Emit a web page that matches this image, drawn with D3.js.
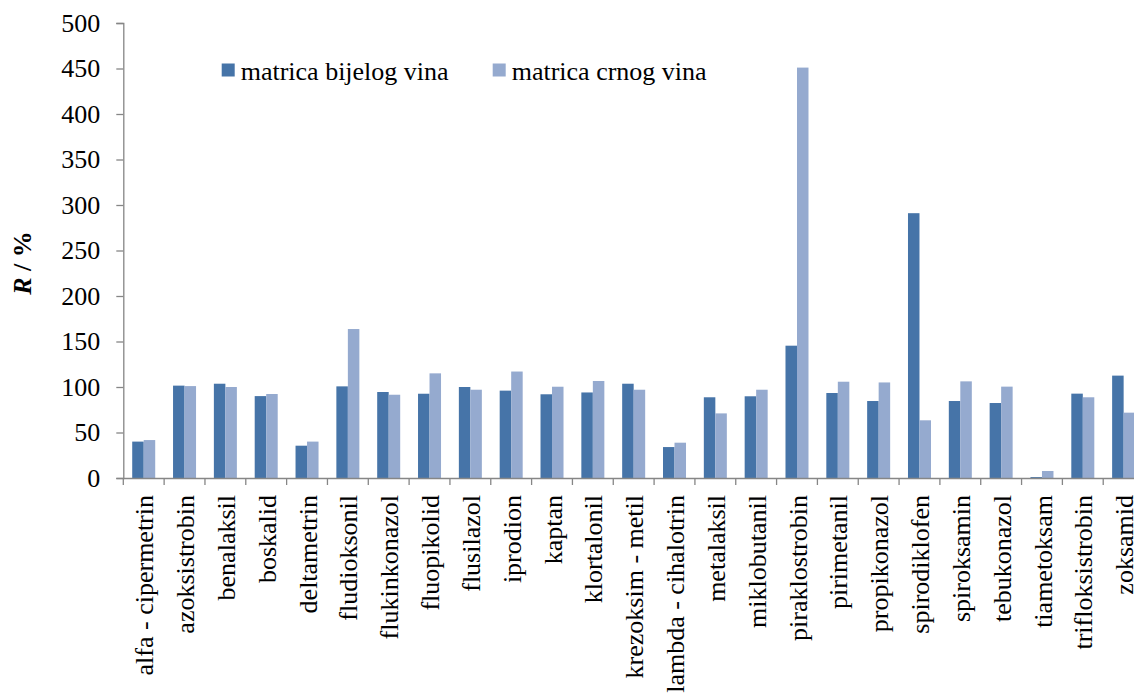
<!DOCTYPE html>
<html>
<head>
<meta charset="utf-8">
<script src="https://cdn.jsdelivr.net/npm/d3@7"></script>
<style>
  html, body { margin: 0; padding: 0; background: #fff; }
  svg { display: block; }
</style>
</head>
<body>
<script>
const categories = ["alfa - cipermetrin","azoksistrobin","benalaksil","boskalid","deltametrin","fludioksonil","flukinkonazol","fluopikolid","flusilazol","iprodion","kaptan","klortalonil","krezoksim - metil","lambda - cihalotrin","metalaksil","miklobutanil","piraklostrobin","pirimetanil","propikonazol","spirodiklofen","spiroksamin","tebukonazol","tiametoksam","trifloksistrobin","zoksamid"];
const seriesNames = ["matrica bijelog vina","matrica crnog vina"];
const bijelo = [40, 101.5, 103.6, 90, 35.5, 100.7, 94.5, 92.6, 100, 96, 92, 94, 103.6, 34, 88.7, 89.8, 145.4, 93.4, 84.6, 291, 84.6, 82.4, 1, 92.7, 112.5];
const crno = [41.7, 101, 100, 92.3, 40, 163.7, 91.5, 115, 97, 117, 100.3, 106.6, 97, 38.8, 71, 97, 451, 105.8, 105, 63.4, 106.2, 100.4, 7.7, 88.7, 71.8];
const yTicks = [0, 50, 100, 150, 200, 250, 300, 350, 400, 450, 500];
const yTitle = ["R", " / %"];

const W = 1134, H = 695;
const colors = ["#4674A8", "#95AACF"];
const axisColor = "#868686";
const FONT = "'Liberation Serif', 'Times New Roman', Times, 'DejaVu Serif', serif";

const svg = d3.select("body").append("svg").attr("width", W).attr("height", H)
  .style("font-family", FONT);

const left = 123.3, bandW = 40.83;
const x0 = d3.scaleBand().domain(categories).range([left, left + bandW * categories.length]).padding(0);
const x1 = d3.scaleBand().domain(seriesNames).range([0, x0.bandwidth()]).paddingInner(0).paddingOuter(0.775);
const y = d3.scaleLinear().domain([0, 500]).range([478, 23]);

// bars
const data = [bijelo, crno];
seriesNames.forEach((s, si) => {
  svg.append("g").selectAll("rect").data(categories).join("rect")
    .attr("x", c => x0(c) + x1(s))
    .attr("y", (c, i) => y(data[si][i]))
    .attr("width", x1.bandwidth())
    .attr("height", (c, i) => y(0) - y(data[si][i]))
    .attr("fill", colors[si]);
});

// y axis
const yAxis = d3.axisLeft(y).tickValues(yTicks).tickSize(7).tickPadding(16);
const gy = svg.append("g").attr("transform", `translate(${left},0)`).call(yAxis);
gy.attr("font-family", null).attr("font-size", null);
gy.select(".domain").attr("stroke", axisColor).attr("stroke-width", 1.3);
gy.selectAll(".tick line").attr("stroke", axisColor).attr("stroke-width", 1.3);
gy.selectAll(".tick text").style("font-family", FONT).style("font-size", "26px").attr("fill", "#000");

// x axis
const xAxis = d3.axisBottom(x0).tickSize(0).tickFormat("");
const gx = svg.append("g").attr("transform", `translate(0,${y(0)})`).call(xAxis);
gx.select(".domain").attr("stroke", axisColor).attr("stroke-width", 1.3);
const bounds = categories.map(c => x0(c)).concat([x0.range()[1]]);
gx.selectAll("line.bound").data(bounds).join("line").attr("class", "bound")
  .attr("x1", d => d).attr("x2", d => d).attr("y1", 0).attr("y2", 7)
  .attr("stroke", axisColor).attr("stroke-width", 1.3);

// x labels
svg.append("g").selectAll("text").data(categories).join("text")
  .attr("transform", c => `translate(${x0(c) + x0.bandwidth() / 2 + 1},495) rotate(-90)`)
  .attr("text-anchor", "end")
  .attr("dy", "0.33em")
  .style("font-family", FONT)
  .style("font-size", "26px")
  .attr("fill", "#000")
  .text(c => c);

// y title
const yt = svg.append("text")
  .attr("transform", "translate(31,263) rotate(-90)")
  .attr("text-anchor", "middle")
  .style("font-family", FONT)
  .style("font-size", "26px")
  .attr("font-weight", "bold")
  .attr("fill", "#000");
yt.append("tspan").attr("font-style", "italic").text(yTitle[0]);
yt.append("tspan").text(yTitle[1]);

// legend
const legendX = [221.7, 492.7];
const lg = svg.append("g");
seriesNames.forEach((s, i) => {
  lg.append("rect").attr("x", legendX[i]).attr("y", 63.5).attr("width", 13).attr("height", 13).attr("fill", colors[i]);
  lg.append("text").attr("x", legendX[i] + 19).attr("y", 80)
    .style("font-family", FONT).style("font-size", "26px").attr("fill", "#000").text(s);
});
</script>
</body>
</html>
